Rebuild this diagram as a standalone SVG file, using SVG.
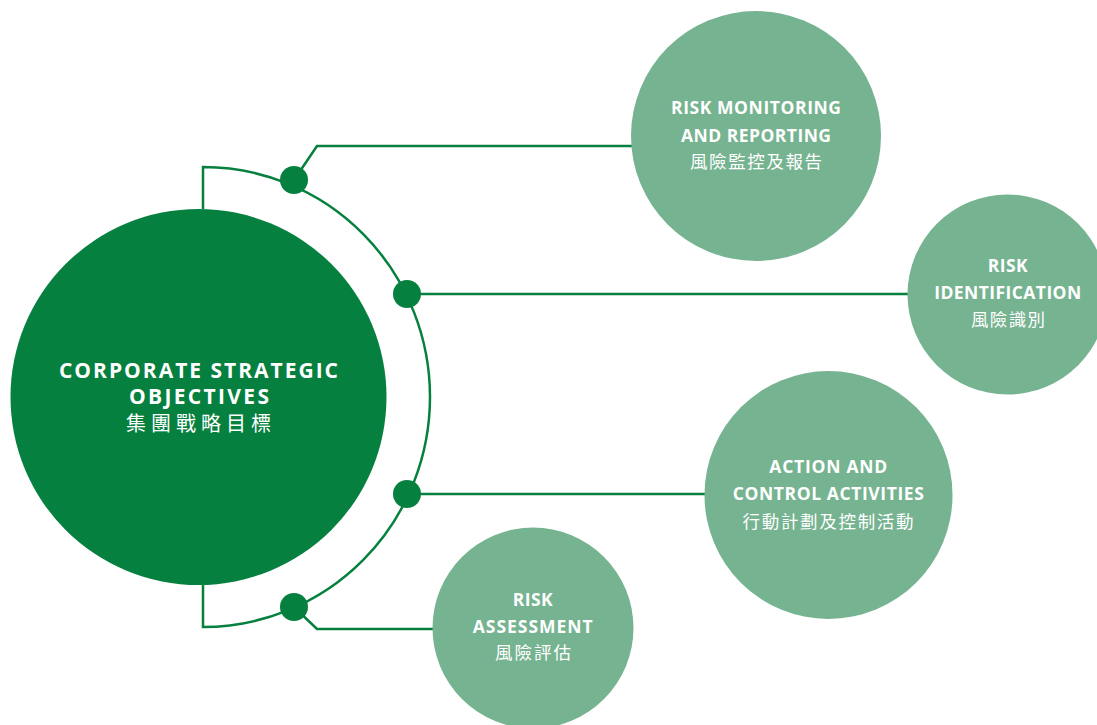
<svg xmlns="http://www.w3.org/2000/svg" width="1097" height="725" viewBox="0 0 1097 725">
<style>
.bg{fill:#ffffff}
.main{fill:#06803f}
.node{fill:#76b390}
.line{fill:none;stroke:#06803f;stroke-width:2.5}
.dot{fill:#06803f}
.en{font-family:"Open Sans","Liberation Sans",sans-serif;font-weight:700;fill:#ffffff;text-anchor:middle}
.zh{font-family:"Noto Sans CJK TC","Noto Sans CJK SC",sans-serif;font-weight:400;fill:#ffffff;text-anchor:middle}
</style>
<rect class="bg" x="0" y="0" width="1097" height="725"/>
<g id="connectors">
<path class="line" d="M203,209 V167 A227,230 0 0 1 203,627 V585"/>
<path class="line" d="M294,180 L317,146 H633"/>
<path class="line" d="M407,294 H910"/>
<path class="line" d="M407,494 H707"/>
<path class="line" d="M294,607 L317,629 H435"/>
<circle class="dot" cx="294" cy="180" r="14"/>
<circle class="dot" cx="407" cy="294" r="14"/>
<circle class="dot" cx="407" cy="494" r="14"/>
<circle class="dot" cx="294" cy="607" r="14"/>
</g>
<g id="corporate-strategic-objectives">
<circle class="main" cx="198.5" cy="397" r="188"/>
<text class="en" x="198.5" y="377.5" font-size="21" textLength="279" lengthAdjust="spacing">CORPORATE STRATEGIC</text>
<text class="en" x="199" y="404" font-size="21" textLength="140" lengthAdjust="spacing">OBJECTIVES</text>
<text class="zh" x="198.5" y="431" font-size="20" textLength="145" lengthAdjust="spacing">集團戰略目標</text>
</g>
<g id="risk-monitoring">
<circle class="node" cx="756" cy="136" r="125"/>
<text class="en" x="756" y="114.3" font-size="17.5" textLength="170" lengthAdjust="spacing">RISK MONITORING</text>
<text class="en" x="756" y="141.7" font-size="17.5" textLength="150" lengthAdjust="spacing">AND REPORTING</text>
<text class="zh" x="756" y="168" font-size="17.5" textLength="132" lengthAdjust="spacing">風險監控及報告</text>
</g>
<g id="risk-identification">
<circle class="node" cx="1007.5" cy="294.5" r="100"/>
<text class="en" x="1007.7" y="272.3" font-size="17.5" textLength="40" lengthAdjust="spacing">RISK</text>
<text class="en" x="1007.7" y="299.3" font-size="17.5" textLength="147" lengthAdjust="spacing">IDENTIFICATION</text>
<text class="zh" x="1008" y="326" font-size="17.5" textLength="74" lengthAdjust="spacing">風險識別</text>
</g>
<g id="action-control">
<circle class="node" cx="828.5" cy="495" r="124"/>
<text class="en" x="828.3" y="473.3" font-size="17.5" textLength="118" lengthAdjust="spacing">ACTION AND</text>
<text class="en" x="828.3" y="500.3" font-size="17.5" textLength="191" lengthAdjust="spacing">CONTROL ACTIVITIES</text>
<text class="zh" x="828" y="527.5" font-size="17.5" textLength="171" lengthAdjust="spacing">行動計劃及控制活動</text>
</g>
<g id="risk-assessment">
<circle class="node" cx="533" cy="628" r="100.5"/>
<text class="en" x="532.7" y="606" font-size="17.5" textLength="40" lengthAdjust="spacing">RISK</text>
<text class="en" x="532.7" y="633.3" font-size="17.5" textLength="120" lengthAdjust="spacing">ASSESSMENT</text>
<text class="zh" x="533" y="659" font-size="17.5" textLength="76" lengthAdjust="spacing">風險評估</text>
</g>
</svg>
